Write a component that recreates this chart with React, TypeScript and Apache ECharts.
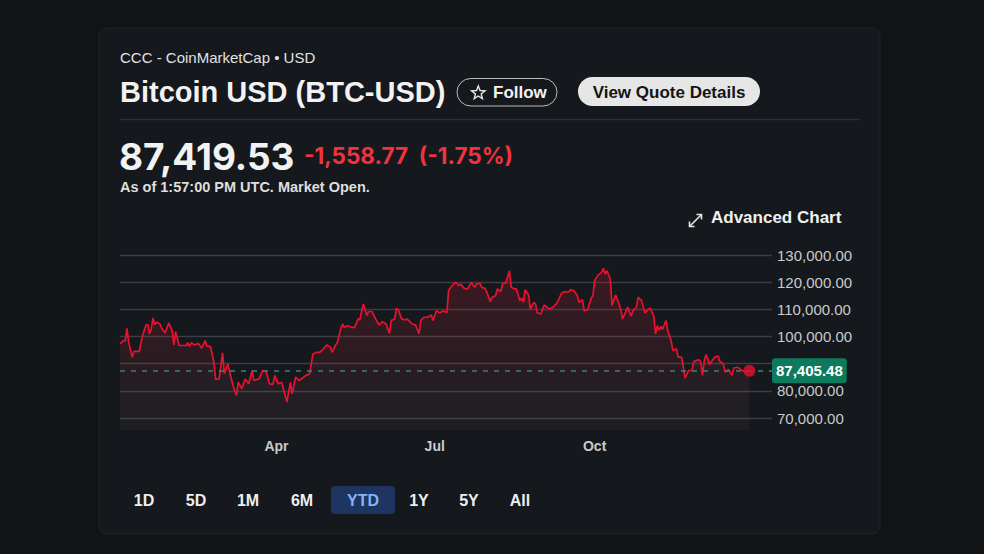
import React, { useEffect, useRef } from "react";
import * as echarts from "echarts";

// ---------- data ----------
const START_DATE = "2025-01-01";
const X_END_DATE = "2026-01-11";

const DATES = [
  "2025-01-01", "2025-01-03", "2025-01-04", "2025-01-05", "2025-01-06", "2025-01-08", "2025-01-09", "2025-01-12",
  "2025-01-14", "2025-01-16", "2025-01-17", "2025-01-18", "2025-01-19", "2025-01-20", "2025-01-21", "2025-01-22",
  "2025-01-24", "2025-01-25", "2025-01-27", "2025-01-29", "2025-01-31",
  "2025-02-01", "2025-02-02", "2025-02-04", "2025-02-08", "2025-02-09", "2025-02-10", "2025-02-11", "2025-02-13",
  "2025-02-15", "2025-02-17", "2025-02-19", "2025-02-20", "2025-02-22", "2025-02-24", "2025-02-25", "2025-02-27",
  "2025-03-01", "2025-03-02", "2025-03-04", "2025-03-05", "2025-03-07", "2025-03-09", "2025-03-10", "2025-03-12",
  "2025-03-14", "2025-03-16", "2025-03-18", "2025-03-19", "2025-03-22", "2025-03-24", "2025-03-26", "2025-03-28",
  "2025-03-30", "2025-03-31",
  "2025-04-02", "2025-04-04", "2025-04-06", "2025-04-07", "2025-04-09", "2025-04-10", "2025-04-12", "2025-04-14",
  "2025-04-18", "2025-04-20", "2025-04-22", "2025-04-24", "2025-04-26", "2025-04-28", "2025-04-30",
  "2025-05-02", "2025-05-03", "2025-05-05", "2025-05-06", "2025-05-08", "2025-05-09", "2025-05-10", "2025-05-12",
  "2025-05-14", "2025-05-16", "2025-05-18", "2025-05-19", "2025-05-20", "2025-05-21", "2025-05-23", "2025-05-24",
  "2025-05-26", "2025-05-28", "2025-05-30",
  "2025-06-01", "2025-06-03", "2025-06-05", "2025-06-06", "2025-06-08", "2025-06-09", "2025-06-10", "2025-06-12",
  "2025-06-14", "2025-06-15", "2025-06-17", "2025-06-18", "2025-06-20", "2025-06-22", "2025-06-23", "2025-06-25",
  "2025-06-27", "2025-06-29", "2025-06-30",
  "2025-07-02", "2025-07-04", "2025-07-06", "2025-07-08", "2025-07-09", "2025-07-11", "2025-07-13", "2025-07-15",
  "2025-07-16", "2025-07-18", "2025-07-20", "2025-07-22", "2025-07-24", "2025-07-25", "2025-07-27", "2025-07-28",
  "2025-07-30", "2025-07-31",
  "2025-08-02", "2025-08-03", "2025-08-05", "2025-08-06", "2025-08-08", "2025-08-09", "2025-08-11", "2025-08-13",
  "2025-08-14", "2025-08-16", "2025-08-17", "2025-08-19", "2025-08-20", "2025-08-21", "2025-08-22", "2025-08-24",
  "2025-08-25", "2025-08-27", "2025-08-28", "2025-08-29", "2025-08-31",
  "2025-09-02", "2025-09-05", "2025-09-07", "2025-09-09", "2025-09-10", "2025-09-12", "2025-09-14", "2025-09-16",
  "2025-09-17", "2025-09-19", "2025-09-21", "2025-09-22", "2025-09-24", "2025-09-25", "2025-09-27", "2025-09-29",
  "2025-09-30",
  "2025-10-01", "2025-10-03", "2025-10-05", "2025-10-06", "2025-10-07", "2025-10-08", "2025-10-10", "2025-10-11",
  "2025-10-13", "2025-10-14", "2025-10-16", "2025-10-17", "2025-10-18", "2025-10-20", "2025-10-22", "2025-10-23",
  "2025-10-25", "2025-10-26", "2025-10-28", "2025-10-29", "2025-10-30",
  "2025-11-01", "2025-11-02", "2025-11-04", "2025-11-05", "2025-11-06", "2025-11-07", "2025-11-08", "2025-11-09",
  "2025-11-11", "2025-11-12", "2025-11-14", "2025-11-15", "2025-11-17", "2025-11-18", "2025-11-20", "2025-11-21",
  "2025-11-22", "2025-11-24", "2025-11-26", "2025-11-27", "2025-11-30",
  "2025-12-01", "2025-12-02", "2025-12-03", "2025-12-04", "2025-12-05", "2025-12-06", "2025-12-07", "2025-12-09",
  "2025-12-11", "2025-12-12", "2025-12-14", "2025-12-15", "2025-12-17", "2025-12-19", "2025-12-20", "2025-12-22",
  "2025-12-24", "2025-12-26", "2025-12-28", "2025-12-29",
];

const PRICES = [
  97300, 98500, 98500, 103000, 97900, 92400, 94500, 94500,
  100400, 104300, 104300, 101000, 102800, 106800, 104300, 105300,
  104600, 103000, 101300, 105000, 102200,
  96900, 101800, 96700, 96700, 97700, 96400, 97700, 96900,
  97500, 95700, 98500, 96400, 96400, 90600, 84200, 84400,
  94000, 86300, 90000, 87100, 82000, 78300, 83200, 80800,
  84400, 82600, 87500, 83800, 84400, 87500, 87100, 82600,
  82400, 85700,
  82600, 83200, 78300, 75900, 83200, 78900, 85100, 83800,
  85700, 86300, 93600, 94200, 94200, 95500, 96900,
  96100, 94200, 96900, 97700, 103000, 104600, 103400, 104000,
  103400, 103400, 106500, 106200, 109500, 112000, 107700, 109200,
  109200, 106500, 104300,
  105500, 104600, 101200, 105900, 106500, 110400, 109900, 106500,
  106100, 106500, 105300, 104600, 104300, 101000, 105900, 107100,
  107100, 107900, 105900,
  109500, 108700, 109500, 108700, 116900, 118700, 119900, 118700,
  119300, 117700, 117500, 119900, 118100, 119300, 119700, 118100,
  117700, 116300,
  112800, 114400, 115000, 117500, 116500, 119300, 119900, 124200,
  118100, 117500, 117500, 113200, 114100, 112600, 117200, 115300,
  110100, 112600, 112000, 108700, 108300,
  111600, 110100, 110800, 112000, 113200, 116000, 116500, 116300,
  117200, 116900, 115000, 112600, 113600, 109500, 109900, 114100,
  115000,
  120600, 122600, 123600, 125100, 123000, 124200, 121200, 111400,
  115300, 113800, 110100, 106500, 107900, 110800, 107500, 109500,
  110800, 114400, 113200, 110800, 108700,
  110100, 110400, 107500, 101000, 104000, 102200, 103800, 102600,
  105900, 102200, 98500, 94800, 95500, 92400, 92400, 88700,
  84700, 87500, 87500, 90800, 91500,
  90600, 85700, 90800, 93300, 92000, 89600, 90600, 92400,
  92800, 90800, 90000, 86900, 87900, 85700, 88400, 88700,
  87900, 87100, 87100, 87405.48,
];

const LAST_PRICE = 87405.48;
const Y_MIN = 65600;
const Y_MAX = 130000;
const Y_TICKS = [70000, 80000, 90000, 100000, 110000, 120000, 130000];
const X_TICK_DATES = ["2025-04-01", "2025-07-01", "2025-10-01"];
const X_TICK_LABELS = ["Apr", "Jul", "Oct"];

const SOURCE_LINE = "CCC - CoinMarketCap \u2022 USD";
const TITLE = "Bitcoin USD (BTC-USD)";
const PRICE_TEXT = "87,419.53";
const CHANGE_TEXT = "-1,558.77  (-1.75%)";
const AS_OF_TEXT = "As of 1:57:00 PM UTC. Market Open.";
const RANGES = ["1D", "5D", "1M", "6M", "YTD", "1Y", "5Y", "All"];
const SELECTED_RANGE = "YTD";

// ---------- helpers ----------
const dayOf = (s: string) => {
  const [y, m, d] = s.split("-").map(Number);
  const [y0, m0, d0] = START_DATE.split("-").map(Number);
  return Math.round((Date.UTC(y, m - 1, d) - Date.UTC(y0, m0 - 1, d0)) / 86400000);
};
const fmt2 = (v: number) =>
  v.toLocaleString("en-US", { minimumFractionDigits: 2, maximumFractionDigits: 2 });

const SANS = '"Liberation Sans", Arial, sans-serif';
const NUM = 'Inter, "Liberation Sans", Arial, sans-serif';

// layout
const RANGE_X = [144, 196, 248, 302, 363, 419, 469, 520];

export default function App() {
  const ref = useRef<HTMLDivElement>(null);

  useEffect(() => {
    if (!ref.current) return;
    const chart = echarts.init(ref.current, undefined, { renderer: "svg" });

    const lineData = DATES.map((d, i) => [dayOf(d), PRICES[i]]);
    const lastDay = dayOf(DATES[DATES.length - 1]);
    const xTickDays = X_TICK_DATES.map(dayOf);

    const star: number[][] = [];
    for (let k = 0; k < 10; k++) {
      const a = (-90 + k * 36) * (Math.PI / 180);
      const r = k % 2 === 0 ? 7 : 3;
      star.push([478.3 + r * Math.cos(a), 93 + r * Math.sin(a)]);
    }

    const rangeEls: any[] = [];
    RANGES.forEach((r, i) => {
      if (r === SELECTED_RANGE) {
        rangeEls.push({
          type: "rect",
          shape: { x: RANGE_X[i] - 32, y: 486, width: 64, height: 28, r: 4 },
          style: { fill: "#1d3560" },
        });
      }
      rangeEls.push({
        type: "text",
        x: RANGE_X[i],
        y: 500,
        style: {
          text: r,
          fill: r === SELECTED_RANGE ? "#86b4f5" : "#eeeeee",
          font: `bold 16px ${SANS}`,
          align: "center",
          verticalAlign: "middle",
        },
      });
    });

    chart.setOption({
      animation: false,
      backgroundColor: "#111417",
      graphic: [
        {
          type: "rect",
          z: -10,
          shape: { x: 99, y: 28, width: 781, height: 506, r: 8 },
          style: { fill: "#15181c", stroke: "#1f2226", lineWidth: 1 },
        },
        {
          type: "text",
          x: 120,
          y: 57,
          style: { text: SOURCE_LINE, fill: "#e2e2e2", font: `15px ${SANS}`, verticalAlign: "middle" },
        },
        {
          type: "text",
          x: 120,
          y: 92,
          style: { text: TITLE, fill: "#f2f2f2", font: `bold 29px ${SANS}`, verticalAlign: "middle" },
        },
        {
          type: "rect",
          shape: { x: 457, y: 78.5, width: 100, height: 27.5, r: 14 },
          style: { fill: "#15181c", stroke: "#bdbdbd", lineWidth: 1 },
        },
        {
          type: "polygon",
          shape: { points: star },
          style: { fill: "none", stroke: "#e6e6e6", lineWidth: 1.4 },
        },
        {
          type: "text",
          x: 493,
          y: 92,
          style: { text: "Follow", fill: "#f2f2f2", font: `bold 17px ${SANS}`, verticalAlign: "middle" },
        },
        {
          type: "rect",
          shape: { x: 578, y: 77, width: 182, height: 29, r: 14.5 },
          style: { fill: "#e6e6e6" },
        },
        {
          type: "text",
          x: 669,
          y: 92,
          style: {
            text: "View Quote Details",
            fill: "#141414",
            font: `bold 17px ${SANS}`,
            align: "center",
            verticalAlign: "middle",
          },
        },
        {
          type: "line",
          shape: { x1: 120, y1: 119.5, x2: 860, y2: 119.5 },
          style: { stroke: "#2c2f34", lineWidth: 1.5 },
        },
        {
          type: "text",
          x: 119,
          y: 156,
          style: { text: PRICE_TEXT, fill: "#f2f2f2", font: `bold 37px ${NUM}`, verticalAlign: "middle" },
        },
        {
          type: "text",
          x: 304,
          y: 155,
          style: { text: CHANGE_TEXT, fill: "#f0333f", font: `bold 22.5px ${NUM}`, verticalAlign: "middle" },
        },
        {
          type: "text",
          x: 120,
          y: 187,
          style: { text: AS_OF_TEXT, fill: "#dedede", font: `bold 14.5px ${SANS}`, verticalAlign: "middle" },
        },
        {
          type: "line",
          shape: { x1: 689.5, y1: 226.5, x2: 701.5, y2: 214.5 },
          style: { stroke: "#e6e6e6", lineWidth: 1.6 },
        },
        {
          type: "polyline",
          shape: { points: [[696.5, 214.5], [701.5, 214.5], [701.5, 219.5]] },
          style: { stroke: "#e6e6e6", lineWidth: 1.6, fill: "none" },
        },
        {
          type: "polyline",
          shape: { points: [[689.5, 221.5], [689.5, 226.5], [694.5, 226.5]] },
          style: { stroke: "#e6e6e6", lineWidth: 1.6, fill: "none" },
        },
        {
          type: "text",
          x: 711,
          y: 217,
          style: { text: "Advanced Chart", fill: "#f0f0f0", font: `bold 17px ${SANS}`, verticalAlign: "middle" },
        },
        ...rangeEls,
      ],
      grid: { left: 120, right: 212, top: 255, bottom: 124 },
      xAxis: {
        type: "value",
        min: 0,
        max: dayOf(X_END_DATE),
        axisLine: { show: false },
        axisTick: { show: false, customValues: xTickDays },
        splitLine: { show: false },
        axisLabel: {
          customValues: xTickDays,
          margin: 9,
          color: "#cacbcd",
          fontFamily: SANS,
          fontWeight: "bold",
          fontSize: 14,
          formatter: (v: number) => {
            const i = xTickDays.indexOf(Math.round(v));
            return i >= 0 ? X_TICK_LABELS[i] : "";
          },
        },
      },
      yAxis: {
        type: "value",
        position: "right",
        min: Y_MIN,
        max: Y_MAX,
        axisLine: { show: false },
        axisTick: { show: false, customValues: Y_TICKS },
        splitLine: { show: true, lineStyle: { color: "#3b3e43", width: 1.3 } },
        axisLabel: {
          customValues: Y_TICKS,
          margin: 5,
          color: "#c9cacc",
          fontFamily: SANS,
          fontSize: 15,
          formatter: (v: number) => fmt2(v),
        },
      },
      series: [
        {
          type: "line",
          data: lineData,
          showSymbol: false,
          symbol: "none",
          lineStyle: { color: "#e8112f", width: 1.7 },
          areaStyle: {
            origin: "start",
            color: new echarts.graphic.LinearGradient(0, 0, 0, 1, [
              { offset: 0, color: "rgba(200, 25, 50, 0.33)" },
              { offset: 0.55, color: "rgba(175, 45, 65, 0.2)" },
              { offset: 1, color: "rgba(140, 120, 130, 0.1)" },
            ]),
          },
          markLine: {
            silent: true,
            symbol: ["none", "none"],
            data: [{ yAxis: LAST_PRICE }],
            lineStyle: { color: "#3f8270", type: [5, 6], width: 1.5 },
            label: {
              show: true,
              position: "end",
              distance: 0,
              formatter: () => fmt2(LAST_PRICE),
              backgroundColor: "#0d7a5c",
              color: "#ffffff",
              fontFamily: SANS,
              fontWeight: "bold",
              fontSize: 15,
              padding: [5, 4, 5, 4],
              borderRadius: 3,
            },
          },
          z: 3,
        },
        {
          type: "scatter",
          data: [[lastDay, LAST_PRICE]],
          symbol: "circle",
          symbolSize: 12,
          itemStyle: { color: "#e3102f" },
          z: 5,
        },
      ],
    });

    return () => chart.dispose();
  }, []);

  return (
    <div
      ref={ref}
      style={{ position: "absolute", left: 0, top: 0, width: 984, height: 554 }}
    />
  );
}
